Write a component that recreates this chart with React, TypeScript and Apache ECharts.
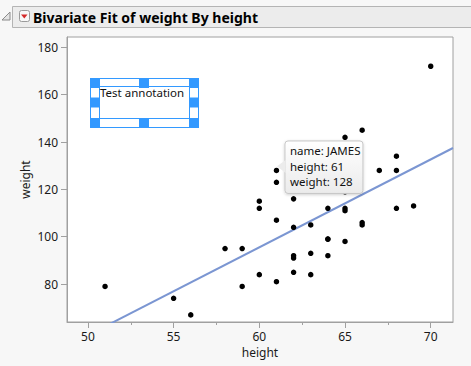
import React, { useEffect, useRef } from "react";
import * as echarts from "echarts";

const names = ["KATIE","LOUISE","JANE","JACLYN","TIM","JAMES","ROBERT","BARBARA","ALICE","SUSAN","JOHN","JOE","MICHAEL","DAVID","JUDY","ELIZABETH","LESLIE","CAROL","PATTY","FREDERICK","ALFRED","HENRY","LEWIS","EDWARD","CHRIS","JEFFREY","MARY","AMY","ROBERT","WILLIAM","CLAY","MARK","DANNY","MARTHA","MARION","PHILLIP","LINDA","KIRK","LAWRENCE"];
const heights = [59,61,55,66,60,61,51,60,61,56,65,63,58,59,61,62,65,63,62,63,64,65,64,68,64,69,62,64,67,65,66,62,66,65,60,68,62,68,70];
const weights = [95,123,74,145,84,128,79,112,107,67,98,105,95,79,81,91,142,84,85,93,99,119,92,112,99,113,92,112,128,111,105,104,106,112,115,128,116,134,172];

const xTicks = [50, 55, 60, 65, 70];
const xMinorTicks = [52.5, 57.5, 62.5, 67.5];
const yTicks = [80, 100, 120, 140, 160, 180];
const xRange = [48.78, 71.3];
const yRange = [64, 184.35];

const fitIntercept = -127.145;
const fitSlope = 3.7114;

const titleText = "Bivariate Fit of weight By height";
const annotationText = "Test annotation";
const tipName = "JAMES";

const FONT = "'Noto Sans', 'DejaVu Sans', sans-serif";
const BLUE = "#3399ff";

export default function App() {
  const ref = useRef<HTMLDivElement>(null);
  useEffect(() => {
    document.body.style.margin = "0";
    const chart = echarts.init(ref.current!, null, { renderer: "svg" });
    const fit = (x: number) => fitIntercept + fitSlope * x;
    const axisLabelStyle = { color: "#1a1a1a", fontSize: 12, fontFamily: FONT };
    chart.setOption({
      animation: false,
      backgroundColor: "#f7f7f7",
      grid: {
        left: 67, top: 37, width: 386, height: 285,
        show: true, backgroundColor: "#ffffff", borderColor: "#a0a0a0", borderWidth: 1,
      },
      xAxis: [
        {
          type: "value", min: xRange[0], max: xRange[1], position: "bottom",
          name: "height", nameLocation: "middle", nameGap: 23,
          nameTextStyle: { ...axisLabelStyle },
          axisLine: { show: true, lineStyle: { color: "#a0a0a0" } },
          axisTick: { show: true, length: 6, customValues: xTicks, lineStyle: { color: "#a0a0a0" } },
          axisLabel: { ...axisLabelStyle, margin: 8, customValues: xTicks },
          splitLine: { show: false },
        },
        {
          type: "value", min: xRange[0], max: xRange[1], position: "bottom",
          axisLine: { show: false },
          axisTick: { show: true, length: 3, customValues: xMinorTicks, lineStyle: { color: "#a0a0a0" } },
          axisLabel: { show: false },
          splitLine: { show: false },
        },
      ],
      yAxis: {
        type: "value", min: yRange[0], max: yRange[1],
        name: "weight", nameLocation: "middle", nameGap: 36, nameMoveOverlap: false,
        nameTextStyle: { ...axisLabelStyle },
        axisLine: { show: true, lineStyle: { color: "#a0a0a0" } },
        axisTick: { show: true, length: 6, customValues: yTicks, lineStyle: { color: "#a0a0a0" } },
        axisLabel: { ...axisLabelStyle, margin: 9, customValues: yTicks },
        splitLine: { show: false },
      },
      series: [
        {
          type: "scatter",
          xAxisIndex: 0,
          symbol: "circle",
          symbolSize: 5.5,
          itemStyle: { color: "#000000", opacity: 1 },
          data: heights.map((h, i) => ({ name: names[i], value: [h, weights[i]] })),
          silent: true,
          z: 3,
        },
        {
          type: "line",
          xAxisIndex: 0,
          showSymbol: false,
          symbol: "none",
          clip: true,
          silent: true,
          lineStyle: { color: "#7b96d2", width: 2 },
          data: [[xRange[0], fit(xRange[0])], [xRange[1], fit(xRange[1])]],
          z: 2,
        },
      ],
    });

    const ti = names.indexOf(tipName);
    const p = chart.convertToPixel({ seriesIndex: 0 }, [heights[ti], weights[ti]]) as number[];
    const px = p[0], py = p[1];
    const tipLines = [`name: ${names[ti]}`, `height: ${heights[ti]}`, `weight: ${weights[ti]}`];

    const handles: number[][] = [
      [90, 78], [139, 78], [189, 78],
      [90, 97.5], [189, 97.5],
      [90, 118], [139, 118], [189, 118],
    ];

    chart.setOption({
      graphic: [
        { type: "rect", shape: { x: 12.5, y: 6.5, width: 470, height: 21 }, style: { fill: "#ececec", stroke: "#b4b4b4", lineWidth: 1 }, silent: true },
        { type: "polygon", shape: { points: [[10, 12], [10, 20], [2, 20]] }, style: { fill: "#e4e4e4", stroke: "#8a8a8a", lineWidth: 1 }, silent: true },
        { type: "rect", shape: { x: 19.5, y: 10.5, width: 10, height: 11, r: 2 }, style: { fill: "#f8f8f8", stroke: "#9a9a9a", lineWidth: 1 }, silent: true },
        { type: "polygon", shape: { points: [[21, 14.5], [27.5, 14.5], [24.25, 18.5]] }, style: { fill: "#d42a2a" }, silent: true },
        { type: "text", x: 33, y: 17, style: { text: titleText, fontSize: 14, fontWeight: "bold", fontFamily: FONT, fill: "#000", textVerticalAlign: "middle" }, silent: true },
        { type: "rect", shape: { x: 90.5, y: 78.5, width: 108, height: 49 }, style: { fill: "#ffffff", stroke: BLUE, lineWidth: 1 }, silent: true },
        { type: "rect", shape: { x: 99.5, y: 86.5, width: 90, height: 32 }, style: { fill: "#ffffff", stroke: BLUE, lineWidth: 1 }, silent: true },
        ...handles.map((h) => ({ type: "rect", shape: { x: h[0], y: h[1], width: 10, height: 10 }, style: { fill: BLUE }, silent: true })),
        { type: "text", x: 100, y: 92, style: { text: annotationText, fontSize: 11.5, fontFamily: FONT, fill: "#111", textVerticalAlign: "middle" }, silent: true },
        {
          type: "rect", shape: { x: px + 8.5, y: py - 29.5, width: 78, height: 52.5, r: 3 },
          style: {
            fill: new echarts.graphic.LinearGradient(0, 0, 0, 1, [
              { offset: 0, color: "#ffffff" }, { offset: 1, color: "#ebebeb" },
            ]),
            stroke: "#c6c6c6", lineWidth: 1,
            shadowBlur: 3, shadowColor: "rgba(0,0,0,0.18)", shadowOffsetY: 1,
          },
          silent: true, z: 100,
        },
        { type: "polygon", shape: { points: [[px + 9.2, py - 10.5], [px + 0.5, py - 4.3], [px + 9.2, py + 2.5]] }, style: { fill: "#ececec" }, silent: true, z: 101 },
        ...tipLines.map((t, k) => ({
          type: "text", x: px + 13.5, y: py - 19.6 + k * 15.5,
          style: { text: t, fontSize: 11.5, fontFamily: FONT, fill: "#111", textVerticalAlign: "middle" },
          silent: true, z: 102,
        })),
      ],
    });

    return () => chart.dispose();
  }, []);
  return <div ref={ref} style={{ width: 471, height: 366 }} />;
}
